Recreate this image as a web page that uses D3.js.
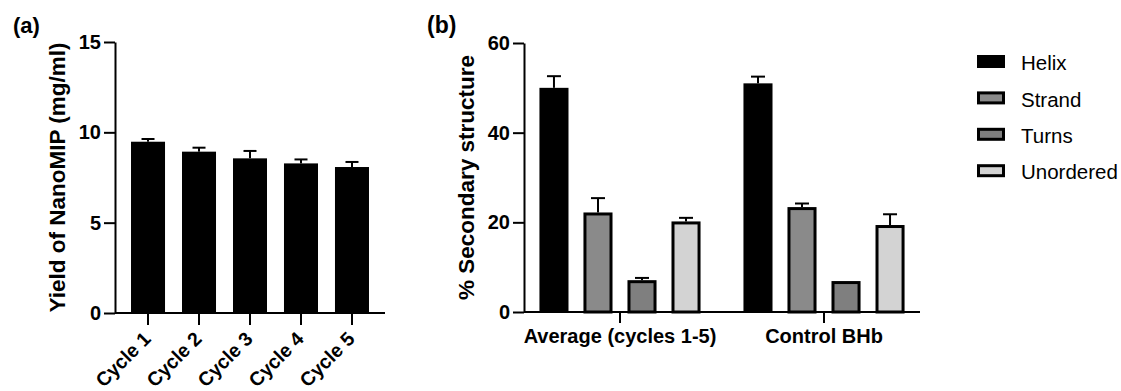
<!DOCTYPE html>
<html>
<head>
<meta charset="utf-8">
<script src="https://cdn.jsdelivr.net/npm/d3@7"></script>
<style>
  body { margin: 0; background: #fff; }
  svg { display: block; font-family: "Liberation Sans", Arial, sans-serif; }
  .axis path, .axis line { stroke: #000; stroke-width: 2; }
  .axis text { font-size: 20px; font-weight: bold; fill: #000; }
</style>
</head>
<body>
<svg id="chart" width="1121" height="391"></svg>
<script>
// panel (a): yield per cycle
const cycles = ['Cycle 1', 'Cycle 2', 'Cycle 3', 'Cycle 4', 'Cycle 5'];
const yieldMean = [9.48, 8.93, 8.56, 8.28, 8.08];
const yieldErr = [0.15, 0.22, 0.41, 0.22, 0.28];
const yieldTicks = [0, 5, 10, 15];

// panel (b): secondary structure
const groups = ['Average (cycles 1-5)', 'Control BHb'];
const structures = ['Helix', 'Strand', 'Turns', 'Unordered'];
const structMean = [
  [50.0, 22.2, 7.1, 20.2],
  [51.0, 23.4, 6.9, 19.4]
];
const structErr = [
  [2.6, 3.2, 0.5, 0.8],
  [1.5, 0.8, 0.0, 2.4]
];
const structTicks = [0, 20, 40, 60];
const structFill = ['#000000', '#8a8a8a', '#7f7f7f', '#d3d3d3'];

const svg = d3.select('#chart');

// ---------- panel (a) ----------
const xa = d3.scaleBand().domain(cycles).range([115, 385]).paddingInner(0.333).paddingOuter(0.314);
const ya = d3.scaleLinear().domain([0, 15]).range([313, 42]);

svg.append('text').attr('x', 13).attr('y', 33)
  .style('font-size', '22px').style('font-weight', 'bold').text('(a)');

const ga = svg.append('g');
ga.selectAll('rect.bar').data(cycles).join('rect')
  .attr('class', 'bar')
  .attr('x', d => xa(d))
  .attr('y', (d, i) => ya(yieldMean[i]))
  .attr('width', xa.bandwidth())
  .attr('height', (d, i) => ya(0) - ya(yieldMean[i]))
  .attr('fill', '#000');

const errA = ga.selectAll('g.err').data(cycles).join('g').attr('class', 'err');
errA.append('line')
  .attr('x1', d => xa(d) + xa.bandwidth() / 2).attr('x2', d => xa(d) + xa.bandwidth() / 2)
  .attr('y1', (d, i) => ya(yieldMean[i])).attr('y2', (d, i) => ya(yieldMean[i] + yieldErr[i]))
  .attr('stroke', '#000').attr('stroke-width', 2);
errA.append('line')
  .attr('x1', d => xa(d) + xa.bandwidth() / 2 - 6.5).attr('x2', d => xa(d) + xa.bandwidth() / 2 + 6.5)
  .attr('y1', (d, i) => ya(yieldMean[i] + yieldErr[i])).attr('y2', (d, i) => ya(yieldMean[i] + yieldErr[i]))
  .attr('stroke', '#000').attr('stroke-width', 2);

svg.append('g').attr('class', 'axis').attr('transform', 'translate(115,0)')
  .call(d3.axisLeft(ya).tickValues(yieldTicks).tickSize(11).tickSizeOuter(0).tickPadding(3));

const axA = svg.append('g').attr('class', 'axis').attr('transform', 'translate(0,313)')
  .call(d3.axisBottom(xa).tickSize(12).tickSizeOuter(0));
axA.select('.domain').attr('d', 'M115,0H385');
axA.selectAll('.tick text')
  .style('font-size', '19.5px')
  .attr('text-anchor', 'end')
  .attr('y', 0).attr('dy', 0)
  .attr('transform', 'translate(4,27) rotate(-45)');

svg.append('text')
  .attr('transform', `translate(65,${(ya(0) + ya(15)) / 2}) rotate(-90)`)
  .attr('text-anchor', 'middle')
  .style('font-size', '22.5px').style('font-weight', 'bold')
  .text('Yield of NanoMIP (mg/ml)');

// ---------- panel (b) ----------
const x0 = d3.scaleBand().domain(groups).range([524, 920]).paddingInner(0.137).paddingOuter(0.039);
const x1 = d3.scaleBand().domain(structures).range([0, x0.bandwidth()]).paddingInner(0.34).paddingOuter(0.17);
const yb = d3.scaleLinear().domain([0, 60]).range([312, 43]);

svg.append('text').attr('x', 427).attr('y', 33)
  .style('font-size', '23px').style('font-weight', 'bold').text('(b)');

const cells = [];
groups.forEach((g, gi) => structures.forEach((s, si) => {
  cells.push({ g, s, si, v: structMean[gi][si], e: structErr[gi][si] });
}));

const gb = svg.append('g');
gb.selectAll('rect.bar').data(cells).join('rect')
  .attr('class', 'bar')
  .attr('x', d => x0(d.g) + x1(d.s) + (d.si ? 1.5 : 0))
  .attr('y', d => yb(d.v) + (d.si ? 1.5 : 0))
  .attr('width', d => x1.bandwidth() - (d.si ? 3 : 0))
  .attr('height', d => yb(0) - yb(d.v) - (d.si ? 1.5 : 0))
  .attr('fill', d => structFill[d.si])
  .attr('stroke', d => d.si ? '#000' : 'none')
  .attr('stroke-width', 3);

const errB = gb.selectAll('g.err').data(cells.filter(d => d.e > 0)).join('g').attr('class', 'err');
const cx = d => x0(d.g) + x1(d.s) + x1.bandwidth() / 2;
errB.append('line')
  .attr('x1', cx).attr('x2', cx)
  .attr('y1', d => yb(d.v)).attr('y2', d => yb(d.v + d.e))
  .attr('stroke', '#000').attr('stroke-width', 2);
errB.append('line')
  .attr('x1', d => cx(d) - 7).attr('x2', d => cx(d) + 7)
  .attr('y1', d => yb(d.v + d.e)).attr('y2', d => yb(d.v + d.e))
  .attr('stroke', '#000').attr('stroke-width', 2);

svg.append('g').attr('class', 'axis').attr('transform', 'translate(524,0)')
  .call(d3.axisLeft(yb).tickValues(structTicks).tickSize(11).tickSizeOuter(0).tickPadding(3));

const axB = svg.append('g').attr('class', 'axis').attr('transform', 'translate(0,312)')
  .call(d3.axisBottom(x0).tickSize(11).tickSizeOuter(0).tickPadding(6));
axB.select('.domain').attr('d', 'M524,0H920');

svg.append('text')
  .attr('transform', `translate(474,${(yb(0) + yb(60)) / 2}) rotate(-90)`)
  .attr('text-anchor', 'middle')
  .style('font-size', '22.5px').style('font-weight', 'bold')
  .text('% Secondary structure');

// legend
const lg = svg.append('g').attr('transform', 'translate(977,55)');
const items = lg.selectAll('g').data(structures).join('g')
  .attr('transform', (d, i) => `translate(0,${i * 36.4})`);
items.append('rect')
  .attr('x', (d, i) => i ? 1.5 : 0).attr('y', (d, i) => i ? 1.5 : 0)
  .attr('width', (d, i) => i ? 25 : 28).attr('height', (d, i) => i ? 10 : 13)
  .attr('fill', (d, i) => structFill[i])
  .attr('stroke', (d, i) => i ? '#000' : 'none').attr('stroke-width', 3);
items.append('text')
  .attr('x', 44).attr('y', 8).attr('dy', '0.35em')
  .style('font-size', '20.5px')
  .text(d => d);
</script>
</body>
</html>
